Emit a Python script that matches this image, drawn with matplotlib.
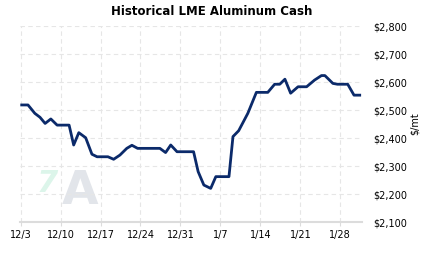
import matplotlib
matplotlib.use('Agg')
import matplotlib.pyplot as plt
from matplotlib.ticker import FuncFormatter

# days since 12/3
days = [0.2, 1.3, 2.5, 3.4, 4.3, 5.3, 6.4, 8.5, 9.3, 10.2, 11.4, 12.5, 13.4,
        15.3, 16.3, 17.4, 18.6, 19.5, 20.5, 24.4, 25.4, 26.3, 27.4, 30.3,
        31.1, 32.1, 33.3, 34.2, 36.5, 37.2, 38.2, 39.8, 41.3, 43.3, 44.5,
        45.4, 46.3, 47.3, 48.6, 50.1, 51.5, 52.7, 53.3, 54.7, 55.5, 57.3,
        58.4, 59.4]
price = [2518, 2518, 2488, 2474, 2452, 2468, 2446, 2446, 2375, 2419, 2401,
         2342, 2333, 2333, 2324, 2339, 2363, 2374, 2363, 2363, 2348, 2375,
         2351, 2351, 2280, 2232, 2220, 2262, 2262, 2405, 2426, 2488, 2563,
         2563, 2592, 2592, 2610, 2560, 2583, 2583, 2607, 2623, 2623, 2595,
         2592, 2592, 2553, 2553]

tick_days = [0, 7, 14, 21, 28, 35, 42, 49, 56]
tick_labels = ['12/3', '12/10', '12/17', '12/24', '12/31', '1/7', '1/14', '1/21', '1/28']
price_ticks = [2100, 2200, 2300, 2400, 2500, 2600, 2700, 2800]

fig = plt.figure(figsize=(4.23, 2.57), dpi=100)
ax = fig.add_axes([20 / 423, 1 - 222 / 257, 342 / 423, 196 / 257])

ax.plot(days, price, color='#0b2a6a', linewidth=2.0, solid_joinstyle='round',
        zorder=3)

ax.set_xlim(-0.1, 59.8)
ax.set_ylim(2100, 2800)
ax.set_xticks(tick_days)
ax.set_xticklabels(tick_labels)
ax.set_yticks(price_ticks)
ax.yaxis.set_major_formatter(FuncFormatter(lambda v, p: '${:,.0f}'.format(v)))
ax.yaxis.tick_right()
ax.yaxis.set_label_position('right')
ax.set_ylabel('$/mt', fontsize=7, labelpad=2)

ax.grid(True, color='#e6e6e6', linestyle=(0, (4, 3)), linewidth=0.8)
for s in ['top', 'left', 'right']:
    ax.spines[s].set_visible(False)
ax.spines['bottom'].set_color('#dcdcdc')
ax.spines['bottom'].set_linewidth(1.5)
ax.tick_params(axis='x', length=3, color='#dcdcdc', labelsize=7, pad=3)
ax.tick_params(axis='y', length=0, labelsize=7, pad=8)

# faint watermark logo
ax.text(0.175, 0.04, 'A', transform=ax.transAxes, fontsize=34, fontweight='bold',
        color='#e2e5ea', ha='center', va='bottom', zorder=1)
ax.text(0.08, 0.12, '7', transform=ax.transAxes, fontsize=22, fontweight='bold',
        color='#dcf5ea', ha='center', va='bottom', zorder=1, style='italic')

fig.text(0.5, 0.955, 'Historical LME Aluminum Cash', ha='center', va='center',
         fontsize=8.5, fontweight='bold')

fig.savefig('out.png', dpi=100)
